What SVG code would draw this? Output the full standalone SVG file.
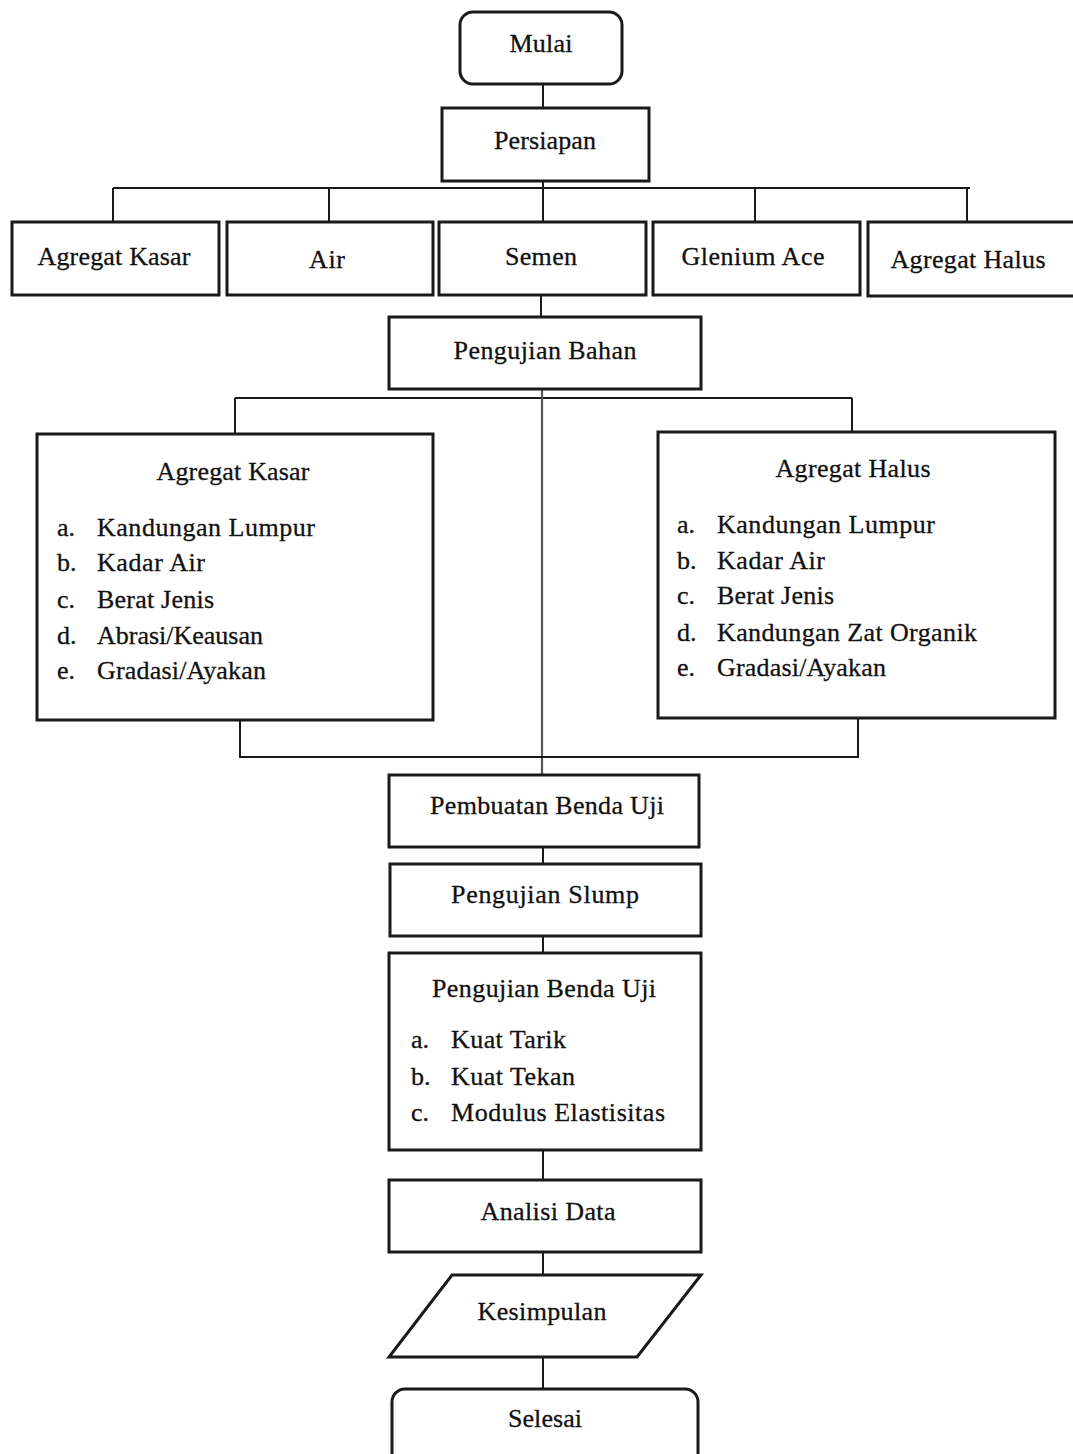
<svg xmlns="http://www.w3.org/2000/svg" width="1073" height="1454" viewBox="0 0 1073 1454">
<style>
.box{fill:#fff;stroke:#1a1a1a;stroke-width:3}
.conn{fill:none;stroke:#1a1a1a;stroke-width:2}
.mid{fill:none;stroke:#555;stroke-width:2.2}
.t{font-family:"Liberation Serif","Times New Roman",serif;font-size:26px;fill:#111;stroke:#111;stroke-width:0.3}
.c{text-anchor:middle}
</style>
<rect width="1073" height="1454" fill="#fff"/>
<g id="connectors">
<path class="conn" d="M543 84V108"/>
<path class="conn" d="M113 188H970M113 188V222M329 188V222M543 181V222M755 188V222M967 188V222"/>
<path class="conn" d="M541 295V317"/>
<path class="conn" d="M235 398H852M235 398V434M852 398V432"/>
<path class="mid" d="M542 389V775"/>
<path class="conn" d="M240 720V757H858V718"/>
<path class="conn" d="M543 847V864M543 936V953M543 1150V1180M543 1252V1275M543 1357V1389"/>
</g>
<g id="mulai"><rect class="box" x="460" y="12" width="162" height="72" rx="13"/><text class="t c" x="541" y="52" textLength="63">Mulai</text></g>
<g id="persiapan"><rect class="box" x="442" y="108" width="207" height="73"/><text class="t c" x="545" y="149" textLength="102">Persiapan</text></g>
<g id="agregat-kasar-top"><rect class="box" x="12" y="222" width="207" height="73"/><text class="t c" x="114" y="265" textLength="153">Agregat Kasar</text></g>
<g id="air"><rect class="box" x="227" y="222" width="206" height="73"/><text class="t c" x="327" y="268" textLength="36">Air</text></g>
<g id="semen"><rect class="box" x="439" y="222" width="207" height="73"/><text class="t c" x="541" y="265" textLength="72">Semen</text></g>
<g id="glenium"><rect class="box" x="653" y="222" width="207" height="73"/><text class="t c" x="753" y="265" textLength="143">Glenium Ace</text></g>
<g id="agregat-halus-top"><rect class="box" x="868" y="222" width="208" height="74"/><text class="t c" x="968" y="268" textLength="155">Agregat Halus</text></g>
<g id="pengujian-bahan"><rect class="box" x="389" y="317" width="312" height="72"/><text class="t c" x="545" y="359" textLength="183">Pengujian Bahan</text></g>
<g id="agregat-kasar-test"><rect class="box" x="37" y="434" width="396" height="286"/>
<text class="t c" x="233" y="480" textLength="153">Agregat Kasar</text>
<text class="t" x="57" y="536">a.</text><text class="t" x="97" y="536" textLength="218">Kandungan Lumpur</text>
<text class="t" x="57" y="571">b.</text><text class="t" x="97" y="571" textLength="108">Kadar Air</text>
<text class="t" x="57" y="608">c.</text><text class="t" x="97" y="608" textLength="117">Berat Jenis</text>
<text class="t" x="57" y="644">d.</text><text class="t" x="97" y="644" textLength="166">Abrasi/Keausan</text>
<text class="t" x="57" y="679">e.</text><text class="t" x="97" y="679" textLength="169">Gradasi/Ayakan</text>
</g>
<g id="agregat-halus-test"><rect class="box" x="658" y="432" width="397" height="286"/>
<text class="t c" x="853" y="477" textLength="155">Agregat Halus</text>
<text class="t" x="677" y="533">a.</text><text class="t" x="717" y="533" textLength="218">Kandungan Lumpur</text>
<text class="t" x="677" y="569">b.</text><text class="t" x="717" y="569" textLength="108">Kadar Air</text>
<text class="t" x="677" y="604">c.</text><text class="t" x="717" y="604" textLength="117">Berat Jenis</text>
<text class="t" x="677" y="641">d.</text><text class="t" x="717" y="641" textLength="260">Kandungan Zat Organik</text>
<text class="t" x="677" y="676">e.</text><text class="t" x="717" y="676" textLength="169">Gradasi/Ayakan</text>
</g>
<g id="pembuatan"><rect class="box" x="389" y="775" width="310" height="72"/><text class="t c" x="547" y="814" textLength="234">Pembuatan Benda Uji</text></g>
<g id="slump"><rect class="box" x="390" y="864" width="311" height="72"/><text class="t c" x="545" y="903" textLength="188">Pengujian Slump</text></g>
<g id="pengujian-benda-uji"><rect class="box" x="389" y="953" width="312" height="197"/>
<text class="t c" x="544" y="997" textLength="224">Pengujian Benda Uji</text>
<text class="t" x="411" y="1048">a.</text><text class="t" x="451" y="1048" textLength="115">Kuat Tarik</text>
<text class="t" x="411" y="1085">b.</text><text class="t" x="451" y="1085" textLength="124">Kuat Tekan</text>
<text class="t" x="411" y="1121">c.</text><text class="t" x="451" y="1121" textLength="214">Modulus Elastisitas</text>
</g>
<g id="analisi"><rect class="box" x="389" y="1180" width="312" height="72"/><text class="t c" x="548" y="1220" textLength="135">Analisi Data</text></g>
<g id="kesimpulan"><polygon class="box" points="452,1275 701,1275 637,1357 389,1357"/><text class="t c" x="542" y="1320" textLength="129">Kesimpulan</text></g>
<g id="selesai"><rect class="box" x="392" y="1389" width="306" height="80" rx="13"/><text class="t c" x="545" y="1427" textLength="74">Selesai</text></g>
</svg>
